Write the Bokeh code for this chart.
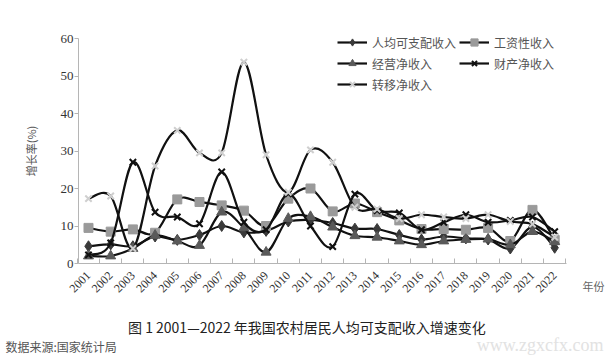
import numpy as np
from bokeh.plotting import figure
from bokeh.models import FixedTicker, Legend, LegendItem, Label, Range1d
from bokeh.embed import file_html
from bokeh.resources import INLINE

years = list(range(2001, 2023))
year_labels = [str(y) for y in years]
income = [4.6, 5.1, 4.6, 7.2, 6.3, 7.6, 10.0, 8.3, 8.7, 11.2, 11.6, 10.8, 9.3, 9.2, 7.6, 6.4, 7.2, 6.7, 6.4, 4.0, 9.8, 4.2]
wage = [9.5, 8.5, 9.1, 8.2, 17.1, 16.4, 15.5, 14.1, 10.0, 17.3, 20.0, 13.9, 16.0, 13.7, 11.5, 9.2, 9.2, 9.0, 9.5, 6.0, 14.3, 6.3]
business = [2.0, 2.0, 4.0, 7.5, 6.0, 4.8, 13.7, 9.5, 3.0, 12.0, 12.5, 9.7, 7.4, 7.0, 6.0, 5.0, 6.0, 6.4, 6.5, 5.0, 8.5, 5.8]
property_inc = [2.3, 5.5, 27.0, 13.7, 12.4, 10.6, 24.4, 11.0, 9.0, 18.6, 10.0, 4.5, 18.5, 14.1, 13.5, 9.0, 11.0, 13.0, 11.0, 11.5, 12.4, 8.5]
transfer = [17.3, 18.0, 4.0, 26.0, 35.5, 29.5, 29.5, 53.7, 29.0, 19.0, 30.3, 27.0, 15.0, 14.5, 12.0, 13.0, 12.4, 12.0, 13.0, 11.2, 10.5, 7.0]
y_ticks = [0, 10, 20, 30, 40, 50, 60]

series = [
    ("人均可支配收入", income, "diamond", "#3a3a3a", "#3a3a3a", 11),
    ("工资性收入", wage, "square", "#9a9a9a", "#9a9a9a", 9),
    ("经营净收入", business, "triangle", "#5a5a5a", "#5a5a5a", 10),
    ("财产净收入", property_inc, "x", "#111111", "#111111", 9),
    ("转移净收入", transfer, "x", "#cfcfcf", "#cfcfcf", 9),
]

CJK = "Noto Sans CJK SC"
SERIF = "Liberation Serif"

W, H = 611, 355
LEFT, TOP = 78, 38   # pixel position of the axes corner (x = 2000.55, y = 60)
PX_X = 22.2          # pixels per year
PX_Y = 3.75          # pixels per percentage point
ax_x0 = 2000.55
ax_x1 = 2022.55
# the frame covers the whole canvas, so every text can sit inside it
rx0 = ax_x0 - LEFT / PX_X
rx1 = ax_x0 + (W - LEFT) / PX_X
ry1 = 60 + TOP / PX_Y
ry0 = 60 - (H - TOP) / PX_Y

p = figure(width=W, height=H, output_backend="svg", toolbar_location=None,
           x_range=Range1d(rx0, rx1), y_range=Range1d(ry0, ry1),
           min_border_left=0, min_border_right=0, min_border_top=0, min_border_bottom=0)
p.outline_line_color = None
p.xgrid.grid_line_color = None
p.ygrid.grid_line_color = None
p.background_fill_color = "white"
p.border_fill_color = "white"


def bezier_parts(xs, ys):
    xs = np.asarray(xs, float)
    ys = np.asarray(ys, float)
    n = len(xs)
    xp = np.concatenate([[xs[0]], xs, [xs[-1]]])
    yp = np.concatenate([[ys[0]], ys, [ys[-1]]])
    return dict(
        x0=xs[:-1], y0=ys[:-1], x1=xs[1:], y1=ys[1:],
        cx0=xs[:-1] + (xp[2:n + 1] - xp[0:n - 1]) / 6.0,
        cy0=ys[:-1] + (yp[2:n + 1] - yp[0:n - 1]) / 6.0,
        cx1=xs[1:] - (xp[3:n + 2] - xp[1:n]) / 6.0,
        cy1=ys[1:] - (yp[3:n + 2] - yp[1:n]) / 6.0,
    )


items = {}
for name, vals, marker, fill, line, size in series:
    b = bezier_parts(years, vals)
    r_line = p.bezier(line_color="#111111", line_width=2.2, **b)
    if marker == "x":
        r_m = p.scatter(years, vals, marker="x", size=size, line_color=line, line_width=2)
    else:
        r_m = p.scatter(years, vals, marker=marker, size=size, fill_color=fill, line_color=line)
    items[name] = LegendItem(label=name, renderers=[r_line, r_m])

legend = Legend(items=[items["人均可支配收入"], items["经营净收入"], items["转移净收入"],
                       items["工资性收入"], items["财产净收入"]],
                ncols=2, location=(LEFT + 259, 262), border_line_color=None,
                background_fill_alpha=0, label_text_font=CJK, label_text_font_size="12px",
                label_text_color="#555555", glyph_width=30, glyph_height=18,
                label_standoff=5, spacing=3, padding=4, margin=0)
p.add_layout(legend)

# x axis drawn at y = 0
p.xaxis.fixed_location = 0
p.xaxis.bounds = (ax_x0, ax_x1)
p.xaxis.ticker = FixedTicker(ticks=years, minor_ticks=[y - 0.5 for y in years] + [2022.5])
p.xaxis.major_label_overrides = {y: s for y, s in zip(years, year_labels)}
p.xaxis.major_label_orientation = np.pi / 4
p.xaxis.major_tick_line_color = None
p.xaxis.minor_tick_in = 5
p.xaxis.minor_tick_out = 0
p.xaxis.minor_tick_line_color = "#b5b5b5"
p.xaxis.axis_line_color = "#b5b5b5"
p.xaxis.major_label_text_font = SERIF
p.xaxis.major_label_text_font_size = "12px"
p.xaxis.major_label_text_color = "#333333"
p.xaxis.major_label_standoff = 4

# y axis drawn at the first category edge
p.yaxis.fixed_location = ax_x0
p.yaxis.bounds = (0, 60)
p.yaxis.ticker = FixedTicker(ticks=y_ticks)
p.yaxis.minor_tick_line_color = None
p.yaxis.major_tick_out = 4
p.yaxis.major_tick_in = 0
p.yaxis.major_tick_line_color = "#b5b5b5"
p.yaxis.axis_line_color = "#b5b5b5"
p.yaxis.major_label_text_font = SERIF
p.yaxis.major_label_text_font_size = "13px"
p.yaxis.major_label_text_color = "#333333"
p.yaxis.major_label_standoff = 1
p.yaxis.axis_label = "增长率(%)"
p.yaxis.axis_label_text_font = CJK
p.yaxis.axis_label_text_font_size = "11px"
p.yaxis.axis_label_text_font_style = "normal"
p.yaxis.axis_label_text_color = "#555555"
p.yaxis.axis_label_standoff = 19


def dx(px):
    return ax_x0 + (px - LEFT) / PX_X


def dy(py):
    return (263 - py) / PX_Y


p.add_layout(Label(x=dx(582), y=dy(285), text="年份", text_font=CJK, text_font_size="11px",
                   text_color="#666666", text_align="left", text_baseline="middle"))
p.add_layout(Label(x=dx(308), y=dy(326), text="图 1  2001—2022 年我国农村居民人均可支配收入增速变化",
                   text_font=CJK, text_font_size="14px", text_color="#222222",
                   text_align="center", text_baseline="middle"))
p.add_layout(Label(x=dx(5), y=dy(346), text="数据来源:国家统计局", text_font=CJK,
                   text_font_size="12px", text_color="#555555", text_align="left",
                   text_baseline="middle"))
p.add_layout(Label(x=dx(603), y=dy(344), text="www.zgxcfx.com", text_font=SERIF,
                   text_font_size="18px", text_color="#e2e2e2", text_align="right",
                   text_baseline="middle"))

open("out.html", "w").write(file_html(p, INLINE))
